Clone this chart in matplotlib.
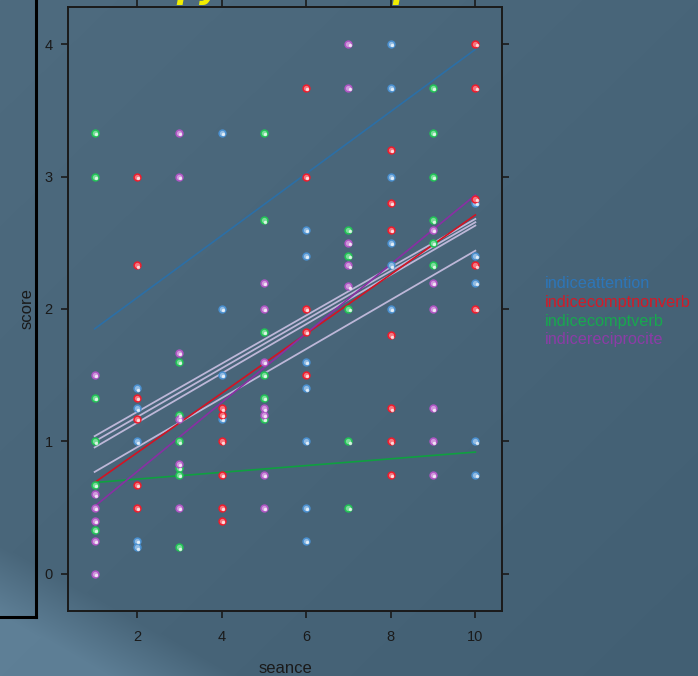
import numpy as np
import matplotlib
matplotlib.use("Agg")
import matplotlib.pyplot as plt
from matplotlib.lines import Line2D
from matplotlib.transforms import ScaledTranslation

plt.rcParams["font.family"] = ["Liberation Sans", "DejaVu Sans"]

# -------- DONNÉES --------
seances_att = [2, 2, 2, 2, 2, 4, 4, 4, 4, 6, 6, 6, 6, 6, 6, 6,
               8, 8, 8, 8, 8, 8, 10, 10, 10, 10, 10]
score_att = [1.4, 1.25, 1.0, 0.25, 0.2, 3.33, 2.0, 1.5, 1.17,
             2.6, 2.4, 1.6, 1.4, 1.0, 0.5, 0.25,
             4.0, 3.67, 3.0, 2.5, 2.33, 2.0, 2.8, 2.4, 2.2, 1.0, 0.75]

seances_nonverb = [2, 2, 2, 2, 2, 2, 4, 4, 4, 4, 4, 4, 6, 6, 6, 6, 6,
                   8, 8, 8, 8, 8, 8, 8, 10, 10, 10, 10, 10]
score_nonverb = [3.0, 2.33, 1.33, 1.17, 0.67, 0.5,
                 1.25, 1.2, 1.0, 0.75, 0.5, 0.4,
                 3.67, 3.0, 2.0, 1.83, 1.5,
                 3.2, 2.8, 2.6, 1.8, 1.25, 1.0, 0.75,
                 4.0, 3.67, 2.83, 2.33, 2.0]

seances_verb = [1, 1, 1, 1, 1, 1, 3, 3, 3, 3, 3, 3, 5, 5, 5, 5, 5, 5,
                7, 7, 7, 7, 7, 9, 9, 9, 9, 9, 9]
score_verb = [3.33, 3.0, 1.33, 1.0, 0.67, 0.33,
              1.6, 1.2, 1.0, 0.8, 0.75, 0.2,
              3.33, 2.67, 1.83, 1.5, 1.33, 1.17,
              2.6, 2.4, 2.0, 1.0, 0.5,
              3.67, 3.33, 3.0, 2.67, 2.5, 2.33]

seances_recip = [1, 1, 1, 1, 1, 1, 3, 3, 3, 3, 3, 3, 5, 5, 5, 5, 5, 5, 5,
                 7, 7, 7, 7, 7, 9, 9, 9, 9, 9, 9]
score_recip = [1.5, 0.6, 0.5, 0.4, 0.25, 0.0,
               3.33, 3.0, 1.67, 1.17, 0.83, 0.5,
               2.2, 2.0, 1.6, 1.25, 1.2, 0.75, 0.5,
               4.0, 3.67, 2.5, 2.33, 2.17,
               2.6, 2.2, 2.0, 1.25, 1.0, 0.75]

# droites ajustées : valeur à seance=1 et seance=10
fit_x = [1, 10]
fit_att = [1.85, 3.96]
fit_nonverb = [0.69, 2.71]
fit_verb = [0.69, 0.92]
fit_recip = [0.51, 2.86]

# droites individuelles (gris)
gris_debut = [1.04, 1.00, 0.955, 0.77]
gris_fin = [2.68, 2.655, 2.63, 2.44]

noms = ["indiceattention", "indicecomptnonverb", "indicecomptverb",
        "indicereciprocite"]
couleurs_pts = ["#4a90d0", "#ee1c2c", "#22c456", "#b055c4"]
couleurs_lignes = ["#2c6fa6", "#d41222", "#0fa040", "#8a2fa4"]
couleurs_leg = ["#2a78c0", "#e4121e", "#12b04a", "#9438ac"]

series = [(seances_att, score_att, fit_att),
          (seances_nonverb, score_nonverb, fit_nonverb),
          (seances_verb, score_verb, fit_verb),
          (seances_recip, score_recip, fit_recip)]

# -------- FIGURE --------
W, H = 698, 676
fig = plt.figure(figsize=(W / 100, H / 100), dpi=100)

# fond de la diapositive (dégradé)
bg = fig.add_axes([0, 0, 1, 1], zorder=-10)
yy, xx = np.mgrid[0:H, 0:W]
base = np.array([72, 101, 121], float)
clair = np.array([94, 127, 150], float)
s = (yy - 545) - 0.55 * xx
t = np.clip(s / 70.0, 0, 1)[..., None]
img = base * (1 - t) + clair * t
img += (1 - yy / H)[..., None] * 6 - (xx / W)[..., None] * 6
bg.imshow(np.clip(img, 0, 255).astype(np.uint8), aspect="auto",
          extent=[0, W, H, 0])
bg.set_xlim(0, W)
bg.set_ylim(H, 0)
bg.axis("off")

# cadre noir à gauche
fig.add_artist(Line2D([36 / W, 36 / W], [1, 1 - 617 / H],
                      transform=fig.transFigure, color="black", lw=2.2))
fig.add_artist(Line2D([0, 36 / W], [1 - 617 / H, 1 - 617 / H],
                      transform=fig.transFigure, color="black", lw=2.2))

# morceaux du titre jaune coupés en haut
for xp, ch in [(176, "p"), (199, "y"), (392, "p")]:
    fig.text(xp / W, 1 + 2 / H, ch, color="#f2ee00", fontsize=24,
             fontweight="bold", style="italic", family="DejaVu Sans",
             ha="left", va="baseline")

ax = fig.add_axes([68 / W, 1 - 611 / H, (502 - 68) / W, (611 - 7) / H])
ax.patch.set_alpha(0)

for xd, yd in zip([fit_x] * 4, zip(gris_debut, gris_fin)):
    ax.plot(xd, list(yd), color="#bdb7d8", lw=1.3, zorder=2)

for (sx, sy, fit), cl in zip(series, couleurs_lignes):
    ax.plot(fit_x, fit, color=cl, lw=1.2, zorder=3)

decal = ScaledTranslation(0.9 / 72, -0.9 / 72, fig.dpi_scale_trans)
for (sx, sy, fit), cp in zip(series, couleurs_pts):
    c = np.array(matplotlib.colors.to_rgb(cp))
    ax.scatter(sx, sy, s=24, facecolor=c * 0.6 + 0.4, edgecolor=c,
               linewidth=1.1, zorder=4)
    ax.scatter(sx, sy, s=6, color="white", alpha=0.75, linewidth=0,
               zorder=5, transform=ax.transData + decal)

ax.set_xlim(0.37, 10.63)
ax.set_ylim(-0.28, 4.28)
ax.set_xticks([2, 4, 6, 8, 10])
ax.set_yticks([0, 1, 2, 3, 4])
ax.tick_params(direction="out", length=5, width=1.2, color="#1a1a1a",
               labelsize=10.5, labelcolor="#1a1a1a", top=True, right=True)
ax.tick_params(axis="x", pad=9)
ax.tick_params(axis="y", pad=6)
for sp in ax.spines.values():
    sp.set_color("#1a1a1a")
    sp.set_linewidth(1.4)

ax.set_xlabel("seance", fontsize=12, color="#1a1a1a", labelpad=12)
ax.set_ylabel("score", fontsize=12, color="#1a1a1a", labelpad=7)

# légende en texte coloré
for i, (nom, cl) in enumerate(zip(noms, couleurs_leg)):
    fig.text(545 / W, 1 - (284 + 18.6 * i) / H, nom, color=cl,
             fontsize=11.7, ha="left", va="center", alpha=0.9)

fig.savefig("out.png", dpi=100)
